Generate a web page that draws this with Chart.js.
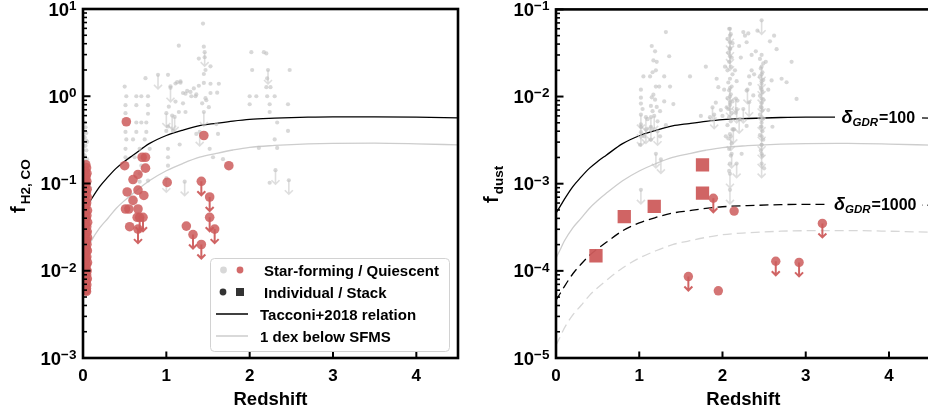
<!DOCTYPE html>
<html>
<head>
<meta charset="utf-8">
<script src="https://cdn.jsdelivr.net/npm/chart.js@4.4.1/dist/chart.umd.min.js"></script>
<style>
  html, body { margin: 0; padding: 0; background: #fff; overflow: hidden; }
  #wrap { position: relative; width: 928px; height: 412px; overflow: hidden; background: #fff; }
  canvas { position: absolute; top: 0; }
  #gasChart { left: 0; }
  #dustChart { left: 470px; }
</style>
</head>
<body>
<div id="wrap">
  <canvas id="gasChart" width="470" height="412"></canvas>
  <canvas id="dustChart" width="470" height="412"></canvas>
</div>
<script>
// ---------------- data ----------------
// scaling-relation curves (gas fraction vs redshift)
const curveZ = [0, 0.05, 0.1, 0.2, 0.3, 0.4, 0.5, 0.6, 0.8, 1.0, 1.2, 1.4, 1.6, 1.8, 2.0, 2.3, 2.7, 3.0, 3.5, 4.0, 4.5];
const tacconiFgas = [0.046, 0.055, 0.066, 0.092, 0.119, 0.15, 0.18, 0.211, 0.288, 0.355, 0.41, 0.46, 0.49, 0.52, 0.544, 0.56, 0.575, 0.58, 0.58, 0.575, 0.565];
const belowSfmsFgas = [0.014, 0.0175, 0.022, 0.031, 0.04, 0.052, 0.064, 0.077, 0.108, 0.14, 0.17, 0.2, 0.221, 0.242, 0.26, 0.273, 0.285, 0.289, 0.29, 0.285, 0.277];
const gdrRatios = [100, 1000];

// f_H2,CO : star-forming comparison sample [z, f]
const gasSF = [
  [0.02,0.50],[0.03,0.44],[0.04,0.38],[0.02,0.34],[0.05,0.30],[0.03,0.27],[0.04,0.24],[0.02,0.21],[0.05,0.19],[0.03,0.17],[0.04,0.31],
  [0.50,1.29],[0.52,1.00],[0.51,0.79],[0.51,0.64],[0.51,0.39],[0.52,0.32],[0.51,0.25],[0.51,0.20],
  [0.64,1.00],[0.70,1.00],[0.78,1.00],[0.64,0.79],[0.78,0.79],[0.75,1.61],[0.78,0.63],
  [0.64,0.50],[0.70,0.50],[0.76,0.50],[0.64,0.39],[0.76,0.39],[0.60,0.32],[0.74,0.32],[0.68,0.25],[0.80,0.25],
  [0.62,0.20],[0.70,0.20],[0.70,0.16],[0.68,0.13],[0.68,0.105],[0.78,0.108],
  [1.02,1.76],[1.05,1.30],[1.11,1.40],[1.17,1.43],[1.23,1.07],[1.20,1.09],[1.29,1.12],[1.33,1.23],[1.35,1.00],
  [1.11,0.87],[1.03,0.76],[1.20,0.83],[1.15,0.66],[1.23,0.66],[1.43,0.83],[1.47,0.95],[1.53,1.09],[1.61,1.10],
  [1.63,1.39],[1.53,1.39],[1.45,1.42],[1.39,1.32],
  [1.15,3.8],[1.45,3.7],[1.44,6.8],[1.46,2.8],[1.39,2.7],[1.53,2.2],[1.47,2.0],[1.45,1.8],[1.13,1.45],[1.17,1.48],
  [1.25,1.15],[1.30,1.0],[1.36,1.05],[1.48,0.9],[1.51,0.75],
  [1.02,0.45],[1.00,0.40],[1.08,0.40],[1.16,0.28],[1.02,0.25],[1.02,0.20],[1.02,0.16],[1.36,0.37],[1.52,0.25],
  [1.62,0.37],[1.56,0.20],[1.68,0.19],[1.60,0.48],
  [2.02,3.2],[2.17,3.2],[2.20,3.1],[2.03,2.0],[2.48,2.0],[2.21,1.6],[2.20,1.27],[2.25,1.27],[2.00,1.0],[2.08,1.0],
  [2.21,1.0],[2.30,1.0],[2.00,0.81],[2.24,0.81],[2.46,0.81],[2.24,0.66],[2.33,0.50],[2.46,0.40],[2.30,0.32],
  [2.11,0.256],[2.33,0.256],[2.24,0.102]
];
const gasSFLimits = [
  [0.06,0.12],[0.90,1.76],[1.05,1.25],[1.00,0.64],[1.10,0.58],[1.45,0.66],[1.46,3.2],[1.40,0.39],
  [1.22,0.105],[1.00,0.115],[2.22,2.0],[2.31,0.142],[2.47,0.109],[1.07,0.60]
];

// f_H2,CO : quiescent sample, local column and individual high-z objects [z, f]
const gasQLocal = [
  [0.035,0.165],[0.045,0.152],[0.030,0.140],[0.050,0.131],[0.040,0.122],[0.033,0.113],[0.048,0.106],[0.038,0.098],
  [0.028,0.091],[0.052,0.086],[0.043,0.079],[0.035,0.074],[0.055,0.069],[0.030,0.064],[0.046,0.060],[0.039,0.056],
  [0.025,0.052],[0.056,0.049],[0.034,0.046],[0.049,0.043],[0.041,0.040],[0.027,0.038],[0.058,0.036],[0.036,0.034],
  [0.047,0.032],[0.030,0.030],[0.053,0.028],[0.040,0.027],[0.026,0.025],[0.057,0.024],[0.044,0.0225],[0.033,0.0212],
  [0.050,0.0201],[0.028,0.0190],[0.042,0.0181],[0.055,0.0170],[0.036,0.0162],[0.025,0.0153],[0.048,0.0145],[0.040,0.0138],
  [0.031,0.0130],[0.056,0.0124],[0.045,0.0117],[0.027,0.0111],[0.038,0.0105],[0.052,0.0100],[0.033,0.0095],[0.046,0.0090],
  [0.029,0.0085],[0.054,0.0081],[0.041,0.0077],[0.035,0.0073],[0.048,0.0069],[0.031,0.0066],[0.043,0.0063],[0.038,0.0060],
  [0.044,0.0058],[0.034,0.0059]
];
const gasQ = [
  [0.52,0.51],[1.45,0.355],[0.50,0.16],[0.71,0.20],[0.75,0.20],[0.75,0.15],[0.66,0.127],[0.60,0.111],[0.53,0.080],
  [0.66,0.084],[0.73,0.073],[0.60,0.064],[0.51,0.051],[0.55,0.051],[0.66,0.051],[0.65,0.041],[0.56,0.032],
  [1.01,0.103],[1.24,0.0325],[1.75,0.16]
];
const gasQLimits = [
  [0.68,0.041],[0.72,0.041],[0.66,0.030],
  [1.42,0.106],[1.52,0.070],[1.52,0.041],[1.58,0.030],[1.32,0.026],[1.42,0.020]
];

// f_dust : star-forming comparison sample [z, f]
const dustSF = [
  [1.32,0.055],[1.15,0.038],[1.19,0.033],[1.17,0.026],[1.21,0.025],[1.20,0.020],[1.16,0.019],[1.36,0.029],[1.30,0.017],
  [1.05,0.017],[1.13,0.017],[1.02,0.012],[1.20,0.013],[1.24,0.013],[1.37,0.013],[1.17,0.0105],[1.19,0.0092],[1.15,0.0098],
  [1.02,0.0097],[1.02,0.0083],[1.14,0.0078],[1.21,0.0076],[1.04,0.0072],[1.16,0.0068],[1.25,0.0068],[1.30,0.0088],
  [1.41,0.0082],[1.10,0.0055],[1.22,0.0052],[1.32,0.0047],[1.02,0.0045],[1.06,0.0035],[1.14,0.0032],[1.25,0.0035],[1.01,0.0028],
  [1.61,0.017],[1.80,0.022],[1.93,0.016],[1.95,0.0128],[1.85,0.0058],[1.74,0.0060],[1.92,0.0085],[1.98,0.0070],
  [2.08,0.060],[2.10,0.052],[2.06,0.046],[2.12,0.041],[2.09,0.036],[2.07,0.032],[2.11,0.028],[2.08,0.025],[2.10,0.022],
  [2.06,0.020],[2.12,0.018],[2.09,0.016],[2.07,0.0145],[2.11,0.013],[2.08,0.0118],[2.10,0.0106],[2.06,0.0096],[2.12,0.0088],
  [2.09,0.0080],[2.07,0.0072],[2.11,0.0065],[2.08,0.0058],[2.10,0.0052],[2.06,0.0047],[2.12,0.0042],[2.09,0.0037],
  [2.07,0.0033],[2.11,0.0029],[2.08,0.0025],[2.10,0.0021],[2.09,0.0017],[2.08,0.0014],
  [2.03,0.022],[2.15,0.020],[2.17,0.015],[2.02,0.012],[2.18,0.009],[2.05,0.0075],[2.16,0.0065],[2.22,0.0055],[2.14,0.0042],
  [2.00,0.006],[2.04,0.0035],
  [2.47,0.030],[2.45,0.027],[2.49,0.024],[2.46,0.021],[2.48,0.019],[2.45,0.017],[2.49,0.0155],[2.47,0.014],[2.46,0.0125],
  [2.48,0.0113],[2.45,0.0102],[2.49,0.0093],[2.47,0.0084],[2.46,0.0076],[2.48,0.0069],[2.45,0.0062],[2.49,0.0056],
  [2.47,0.0050],[2.46,0.0045],[2.48,0.0040],[2.45,0.0036],[2.49,0.0032],[2.47,0.0028],[2.46,0.0024],[2.48,0.0021],[2.50,0.0015],
  [2.42,0.057],[2.40,0.033],[2.52,0.025],[2.38,0.018],[2.55,0.012],
  [2.25,0.055],[2.29,0.042],[2.35,0.030],[2.22,0.028],[2.33,0.014],[2.37,0.0103],[2.29,0.0117],[2.57,0.043],[2.65,0.035],
  [2.71,0.016],[2.77,0.0146],[2.83,0.025],[2.89,0.0094],[2.59,0.0153],[2.23,0.0022],[2.29,0.0046],[2.31,0.053],[2.27,0.050],
  [2.35,0.020],[2.32,0.017],[2.55,0.007],[2.60,0.0045],[2.20,0.038],[2.62,0.050]
];
const dustSFLimits = [
  [1.02,0.0062],[1.02,0.0048],[1.02,0.0039],[1.08,0.0058],[1.08,0.0042],[1.14,0.0058],[1.14,0.0045],[1.18,0.0060],
  [1.22,0.0040],[1.20,0.0022],[1.26,0.0019],[1.02,0.00085],[1.88,0.0075],[1.90,0.0062],
  [2.09,0.060],[2.09,0.050],[2.09,0.042],[2.09,0.035],[2.09,0.029],[2.09,0.0125],[2.09,0.010],[2.09,0.0085],[2.10,0.0035],
  [2.11,0.0022],[2.17,0.0017],[2.09,0.0013],[2.09,0.00085],[2.13,0.0042],[2.16,0.0095],[2.17,0.0072],[2.20,0.0055],
  [2.25,0.0072],[2.32,0.0086],[2.30,0.012],
  [2.47,0.075],[2.47,0.022],[2.47,0.018],[2.47,0.015],[2.47,0.012],[2.47,0.0095],[2.47,0.0075],[2.47,0.0058],[2.47,0.0045],
  [2.47,0.0035],[2.47,0.0028],[2.47,0.0022],[2.47,0.0017]
];

// f_dust : quiescent sample [z, f]
const dustQStack = [[0.48,1.49e-4],[0.82,4.2e-4],[1.18,5.5e-4],[1.76,1.64e-3],[1.76,7.8e-4]];
const dustQ = [[2.14,4.85e-4],[1.95,5.9e-5]];
const dustQLimits = [[1.89,6.8e-4],[3.20,3.5e-4],[2.64,1.29e-4],[2.92,1.25e-4],[1.59,8.6e-5]];

// axis ticks
const xTickValues = [0, 1, 2, 3, 4];
const gasExponents = [1, 0, -1, -2, -3];
const dustExponents = [-1, -2, -3, -4, -5];

// ---------------- styling ----------------
const FONT = '"Liberation Sans", Arial, sans-serif';
const RED = 'rgba(205,92,92,0.85)';
const RED_ARROW = 'rgba(205,92,92,0.95)';
const GRAY_DOT = 'rgba(190,190,190,0.6)';
const GRAY_ARROW = 'rgba(195,195,195,0.55)';
const LINE_GRAY = 'rgb(205,205,205)';
const LINE_GRAY_DASH = 'rgb(215,215,215)';

const pts = list => list.map(p => ({ x: p[0], y: p[1] }));
const curve = (vals, div) => curveZ.map((z, i) => ({ x: z, y: vals[i] / div }));

function scatterSet(list, color, radius, order, extra) {
  return Object.assign({
    data: pts(list), backgroundColor: color, borderWidth: 0,
    pointRadius: radius, pointStyle: 'circle', order: order
  }, extra || {});
}
function lineSet(data, color, width, dash, order) {
  return {
    data: data, showLine: true, pointRadius: 0, borderColor: color, borderWidth: width,
    borderDash: dash, cubicInterpolationMode: 'monotone', fill: false, order: order
  };
}

// downward arrows for upper limits, drawn right after their dataset
const upperLimitArrows = {
  id: 'upperLimitArrows',
  afterDatasetDraw(chart, args) {
    const ds = chart.data.datasets[args.index];
    if (!ds.upperLimit) return;
    const { ctx, chartArea: a } = chart;
    const u = ds.upperLimit;
    ctx.save();
    ctx.beginPath();
    ctx.rect(a.left, a.top, a.right - a.left, a.bottom - a.top);
    ctx.clip();
    ctx.strokeStyle = u.color;
    ctx.lineWidth = u.width;
    ctx.lineCap = 'butt';
    args.meta.data.forEach(el => {
      const x = el.x, y = el.y, tip = y + u.length;
      ctx.beginPath();
      ctx.moveTo(x, y);
      ctx.lineTo(x, tip);
      ctx.moveTo(x - u.head, tip - u.head);
      ctx.lineTo(x, tip);
      ctx.lineTo(x + u.head, tip - u.head);
      ctx.stroke();
    });
    ctx.restore();
  }
};

function drawPower(ctx, rightX, y, exp) {
  const expStr = exp < 0 ? '\u2212' + (-exp) : String(exp);
  ctx.font = 'bold 13.5px ' + FONT;
  const we = ctx.measureText(expStr).width;
  ctx.font = 'bold 18.5px ' + FONT;
  const wb = ctx.measureText('10').width;
  const x0 = rightX - we - wb;
  ctx.textAlign = 'left';
  ctx.textBaseline = 'alphabetic';
  ctx.fillText('10', x0, y + 6.6);
  ctx.font = 'bold 13.5px ' + FONT;
  ctx.fillText(expStr, x0 + wb, y + 0.8);
}

function drawFrame(chart, exps, title) {
  const { ctx, chartArea: a, scales: { x, y } } = chart;
  ctx.save();
  ctx.strokeStyle = '#000';
  ctx.fillStyle = '#000';
  // y ticks (major + log minor), pointing inward
  exps.forEach(e => {
    const py = y.getPixelForValue(Math.pow(10, e));
    ctx.lineWidth = 2;
    ctx.beginPath(); ctx.moveTo(a.left, py); ctx.lineTo(a.left + 7.5, py); ctx.stroke();
    if (e > exps[exps.length - 1]) {
      for (let k = 2; k <= 9; k++) {
        const pm = y.getPixelForValue(k * Math.pow(10, e - 1));
        ctx.lineWidth = 1.6;
        ctx.beginPath(); ctx.moveTo(a.left, pm); ctx.lineTo(a.left + 4, pm); ctx.stroke();
      }
    }
    drawPower(ctx, a.left - 6.5, py, e);
  });
  // x ticks
  ctx.font = 'bold 17px ' + FONT;
  ctx.textAlign = 'center';
  ctx.textBaseline = 'alphabetic';
  xTickValues.forEach(v => {
    const px = x.getPixelForValue(v);
    ctx.lineWidth = 2;
    ctx.beginPath(); ctx.moveTo(px, a.bottom); ctx.lineTo(px, a.bottom - 6.5); ctx.stroke();
    ctx.fillText(String(v), px, 380.5);
  });
  // spines
  ctx.lineWidth = 2.6;
  ctx.strokeRect(a.left, a.top, a.right - a.left, a.bottom - a.top);
  // x title
  ctx.font = 'bold 18.5px ' + FONT;
  ctx.textAlign = 'center';
  ctx.fillText('Redshift', (a.left + a.right) / 2, 405);
  // y title with subscript
  ctx.save();
  ctx.translate(title.x, title.y);
  ctx.rotate(-Math.PI / 2);
  ctx.textAlign = 'left';
  ctx.font = 'bold 20px ' + FONT;
  ctx.fillText('f', 0, 0);
  const wf = ctx.measureText('f').width;
  ctx.font = 'bold 13.5px ' + FONT;
  ctx.fillText(title.sub, wf + 2, 4.5);
  ctx.restore();
  ctx.restore();
}

function drawGasLegend(ctx) {
  ctx.save();
  const bx = 210.5, by = 258.5, bw = 239, bh = 93, r = 4;
  ctx.beginPath();
  ctx.moveTo(bx + r, by);
  ctx.arcTo(bx + bw, by, bx + bw, by + bh, r);
  ctx.arcTo(bx + bw, by + bh, bx, by + bh, r);
  ctx.arcTo(bx, by + bh, bx, by, r);
  ctx.arcTo(bx, by, bx + bw, by, r);
  ctx.closePath();
  ctx.fillStyle = 'rgba(255,255,255,0.8)';
  ctx.fill();
  ctx.strokeStyle = '#d2d2d2';
  ctx.lineWidth = 1;
  ctx.stroke();

  const dot = (cx, cy, rad, col) => { ctx.fillStyle = col; ctx.beginPath(); ctx.arc(cx, cy, rad, 0, 2 * Math.PI); ctx.fill(); };
  dot(223.5, 270, 3.4, 'rgb(216,216,216)');
  dot(240, 270, 3.4, 'rgb(211,106,106)');
  dot(223, 292, 3.4, '#333');
  ctx.fillStyle = '#333';
  ctx.fillRect(236, 288, 8, 8);
  ctx.lineWidth = 1.5;
  ctx.strokeStyle = '#000';
  ctx.beginPath(); ctx.moveTo(216, 314); ctx.lineTo(248, 314); ctx.stroke();
  ctx.strokeStyle = LINE_GRAY;
  ctx.beginPath(); ctx.moveTo(216, 336); ctx.lineTo(248, 336); ctx.stroke();

  ctx.fillStyle = '#000';
  ctx.font = 'bold 15px ' + FONT;
  ctx.textAlign = 'left';
  ctx.textBaseline = 'alphabetic';
  ctx.fillText('Star-forming / Quiescent', 264, 276);
  ctx.fillText('Individual / Stack', 264, 297.5);
  ctx.fillText('Tacconi+2018 relation', 260, 319.5);
  ctx.fillText('1 dex below SFMS', 260, 341.5);
  ctx.restore();
}

function drawGdrLabel(chart, ratio, textX, boxLeft) {
  const { ctx, scales: { x, y } } = chart;
  const lineY = y.getPixelForValue(tacconiFgas[tacconiFgas.length - 1] / ratio);
  const base = lineY + 4.5;
  ctx.save();
  ctx.fillStyle = '#fff';
  ctx.fillRect(boxLeft, lineY - 11, 452 - boxLeft, 20);
  ctx.fillStyle = '#000';
  ctx.textAlign = 'left';
  ctx.textBaseline = 'alphabetic';
  let cx = textX;
  ctx.font = 'italic bold 18px ' + FONT;
  ctx.fillText('\u03B4', cx, base);
  cx += ctx.measureText('\u03B4').width;
  ctx.font = 'italic bold 11.5px ' + FONT;
  ctx.fillText('GDR', cx, base + 3);
  cx += ctx.measureText('GDR').width + 1;
  ctx.font = 'bold 16px ' + FONT;
  ctx.fillText('=' + ratio, cx, base);
  ctx.restore();
}

function baseOptions(yMin, yMax, padding) {
  return {
    responsive: false, animation: false, devicePixelRatio: 1, events: [],
    layout: { padding: padding },
    plugins: { legend: { display: false }, tooltip: { enabled: false } },
    scales: {
      x: { type: 'linear', min: 0, max: 4.5, display: false },
      y: { type: 'logarithmic', min: yMin, max: yMax, display: false }
    }
  };
}

// ---------------- left panel: molecular gas fraction ----------------
new Chart(document.getElementById('gasChart'), {
  type: 'scatter',
  data: {
    datasets: [
      lineSet(curve(belowSfmsFgas, 1), LINE_GRAY, 1.3, [], 5),
      lineSet(curve(tacconiFgas, 1), '#000', 1.3, [], 4),
      scatterSet(gasSF, GRAY_DOT, 2.1, 3),
      scatterSet(gasSFLimits, GRAY_DOT, 2.1, 3, { upperLimit: { color: GRAY_ARROW, width: 1.6, length: 14, head: 4 } }),
      scatterSet(gasQLocal, RED, 4.6, 1),
      scatterSet(gasQ, RED, 4.8, 1),
      scatterSet(gasQLimits, RED, 4.8, 1, { upperLimit: { color: RED_ARROW, width: 2, length: 14, head: 4 } })
    ]
  },
  options: baseOptions(1e-3, 10, { left: 83, right: 12, top: 9, bottom: 54 }),
  plugins: [upperLimitArrows, {
    id: 'gasFrame',
    afterDraw(chart) {
      drawFrame(chart, gasExponents, { x: 25, y: 213, sub: 'H2, CO' });
      drawGasLegend(chart.ctx);
    }
  }]
});

// ---------------- right panel: dust fraction ----------------
const dustCurves = [];
gdrRatios.forEach((ratio, i) => {
  const dash = i === 0 ? [] : [9, 5];
  dustCurves.push(lineSet(curve(belowSfmsFgas, ratio), i === 0 ? LINE_GRAY : LINE_GRAY_DASH, 1.3, dash, 5));
  dustCurves.push(lineSet(curve(tacconiFgas, ratio), '#000', 1.3, dash, 4));
});

new Chart(document.getElementById('dustChart'), {
  type: 'scatter',
  data: {
    datasets: dustCurves.concat([
      scatterSet(dustSF, GRAY_DOT, 2.1, 3),
      scatterSet(dustSFLimits, GRAY_DOT, 2.1, 3, { upperLimit: { color: GRAY_ARROW, width: 1.6, length: 14, head: 4 } }),
      scatterSet(dustQStack, 'rgba(205,92,92,0.95)', 9.4, 1, { pointStyle: 'rect' }),
      scatterSet(dustQ, RED, 4.7, 1),
      scatterSet(dustQLimits, RED, 4.7, 1, { upperLimit: { color: RED_ARROW, width: 2, length: 14, head: 4 } })
    ])
  },
  options: baseOptions(1e-5, 0.1, { left: 86, right: 9, top: 9, bottom: 54 }),
  plugins: [upperLimitArrows, {
    id: 'dustFrame',
    afterDraw(chart) {
      drawGdrLabel(chart, gdrRatios[0], 371.5, 365);
      drawGdrLabel(chart, gdrRatios[1], 364, 355);
      drawFrame(chart, dustExponents, { x: 28, y: 203, sub: 'dust' });
    }
  }]
});
</script>
</body>
</html>
